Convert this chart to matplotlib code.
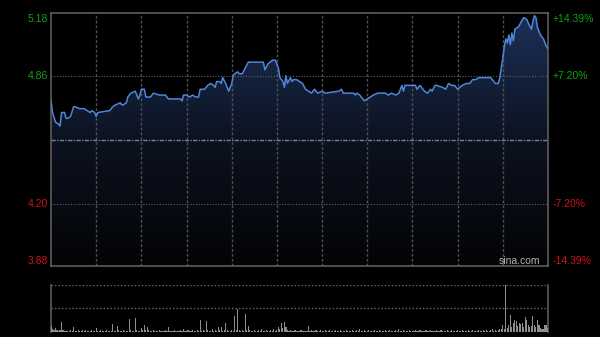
import numpy as np
import matplotlib
matplotlib.use('Agg')
import matplotlib.pyplot as plt
from matplotlib.colors import LinearSegmentedColormap

plt.rcParams['font.family'] = ['Liberation Sans', 'DejaVu Sans']

prev_close = 4.53
y_lo, y_hi = 3.878, 5.182
price_levels = [5.18, 4.86, 4.20, 3.88]
price_labels = ['5.18', '4.86', '4.20', '3.88']
pct_labels = ['+14.39%', '+7.20%', '-7.20%', '-14.39%']
up_color = '#12a012'
down_color = '#d01414'

# minute of the session (HK: 330 minutes) and last price
minutes = [0, 1, 3, 5, 6, 7, 9, 10, 11, 13, 15, 16, 19, 22, 24, 26, 27, 29, 30, 31,
           39, 41, 43, 46, 47, 48, 50, 51, 53, 56, 58, 59, 60, 62, 63, 66, 68, 72, 76, 78,
           86, 87, 88, 90, 92, 94, 96, 98, 99, 102, 104, 106, 108, 109, 110, 112, 113, 114, 116, 118,
           120, 121, 122, 124, 125, 127, 129, 131, 133, 139, 141, 142, 144, 147, 149, 151, 152, 154, 155, 156,
           157, 159, 160, 161, 163, 165, 167, 169, 171, 173, 175, 177, 180, 182, 191, 193, 194, 201, 202, 203,
           205, 207, 208, 210, 212, 214, 217, 222, 224, 226, 229, 231, 233, 234, 235, 238, 242, 243, 245, 248,
           250, 252, 253, 255, 256, 260, 262, 264, 266, 268, 270, 273, 276, 278, 280, 282, 284, 286, 288, 290,
           292, 293, 295, 297, 298, 299, 300, 301, 302, 303, 304, 305, 306, 307, 308, 310, 311, 313, 314, 316,
           317, 319, 320, 321, 322, 323, 325, 327, 329, 330]
prices = [4.73, 4.67, 4.62, 4.61, 4.60, 4.67, 4.67, 4.64, 4.64, 4.65, 4.70, 4.70, 4.69, 4.69, 4.68, 4.67, 4.68, 4.67, 4.65, 4.67,
          4.68, 4.70, 4.71, 4.72, 4.71, 4.71, 4.72, 4.75, 4.77, 4.78, 4.74, 4.76, 4.79, 4.79, 4.75, 4.75, 4.77, 4.76, 4.76, 4.74,
          4.74, 4.73, 4.76, 4.76, 4.75, 4.76, 4.75, 4.75, 4.79, 4.79, 4.81, 4.82, 4.81, 4.80, 4.83, 4.83, 4.82, 4.85, 4.82, 4.78,
          4.82, 4.86, 4.87, 4.88, 4.87, 4.87, 4.90, 4.93, 4.93, 4.93, 4.93, 4.89, 4.92, 4.94, 4.94, 4.90, 4.85, 4.83, 4.80, 4.86,
          4.82, 4.85, 4.83, 4.84, 4.84, 4.83, 4.82, 4.79, 4.78, 4.77, 4.79, 4.77, 4.78, 4.77, 4.78, 4.79, 4.77, 4.77, 4.76, 4.77,
          4.76, 4.74, 4.73, 4.74, 4.75, 4.76, 4.77, 4.77, 4.76, 4.77, 4.76, 4.77, 4.81, 4.78, 4.81, 4.81, 4.81, 4.79, 4.81, 4.78,
          4.77, 4.79, 4.78, 4.81, 4.81, 4.80, 4.79, 4.82, 4.81, 4.81, 4.79, 4.81, 4.82, 4.82, 4.84, 4.84, 4.85, 4.85, 4.85, 4.85,
          4.85, 4.84, 4.82, 4.82, 4.85, 4.90, 4.95, 5.01, 5.05, 5.03, 5.07, 5.02, 5.08, 5.04, 5.10, 5.11, 5.12, 5.15, 5.16, 5.15,
          5.13, 5.10, 5.14, 5.17, 5.16, 5.11, 5.07, 5.05, 5.01, 5.00]

# volume per minute (relative)
volume = [6, 3, 2, 4, 2, 1, 2, 10, 2, 1, 1, 1, 1, 2, 1, 5, 1, 1, 2, 1, 1, 2, 1, 2, 1, 1, 1, 2, 1, 1,
          4, 1, 1, 2, 1, 1, 1, 2, 1, 1, 1, 8, 1, 1, 6, 2, 1, 1, 2, 1, 1, 1, 13, 2, 1, 1, 14, 2, 1, 1,
          4, 2, 7, 2, 5, 2, 1, 1, 2, 1, 1, 1, 2, 1, 1, 1, 2, 1, 5, 1, 1, 1, 2, 1, 1, 1, 2, 1, 3, 1,
          1, 2, 1, 1, 2, 1, 1, 2, 1, 12, 1, 2, 1, 11, 2, 1, 1, 3, 1, 2, 1, 5, 2, 5, 1, 2, 9, 2, 1, 1,
          2, 1, 16, 2, 23, 2, 1, 2, 1, 18, 2, 6, 2, 1, 1, 2, 1, 1, 2, 1, 3, 1, 1, 2, 1, 1, 2, 1, 3, 1,
          2, 5, 3, 9, 4, 10, 5, 2, 1, 2, 1, 1, 2, 1, 1, 1, 2, 1, 1, 1, 1, 6, 1, 2, 1, 1, 2, 1, 1, 2,
          1, 1, 2, 1, 1, 2, 1, 1, 1, 2, 1, 1, 2, 1, 1, 1, 2, 1, 1, 1, 2, 1, 1, 2, 1, 3, 1, 1, 2, 1,
          1, 2, 1, 1, 1, 2, 1, 1, 2, 1, 1, 1, 2, 1, 1, 2, 1, 1, 1, 2, 1, 3, 1, 1, 2, 1, 1, 1, 2, 1,
          1, 1, 2, 1, 1, 2, 1, 1, 1, 2, 1, 1, 2, 1, 1, 1, 2, 1, 1, 2, 1, 1, 1, 2, 1, 1, 2, 1, 1, 1,
          2, 1, 1, 2, 1, 1, 1, 2, 1, 1, 2, 1, 1, 1, 2, 1, 1, 2, 1, 2, 1, 1, 2, 3, 1, 2, 1, 2, 3, 3,
          7, 3, 47, 4, 7, 17, 5, 9, 12, 11, 6, 9, 8, 9, 5, 15, 12, 7, 5, 6, 16, 7, 5, 12, 7, 4, 3, 3, 7, 7,
          4]

n_min = 330
frame = '#5c5c5c'

fig = plt.figure(figsize=(6, 3.37), dpi=100, facecolor='black')
ax = fig.add_axes([0.085, 0.2107, 0.8283, 0.7498], facecolor='black')
ax.set_xlim(0, n_min)
ax.set_ylim(y_lo, y_hi)

# gradient under the price line
grad = np.linspace(0, 1, 256).reshape(-1, 1)
cmap = LinearSegmentedColormap.from_list('fill', ['#030405', '#0c1220', '#1d3058'])
im = ax.imshow(grad, cmap=cmap, extent=[0, n_min, y_lo, y_hi], origin='lower',
               aspect='auto', zorder=1)
area = ax.fill_between(minutes, prices, y_lo, color='none', lw=0)
im.set_clip_path(area.get_paths()[0], transform=ax.transData)

for m in range(30, n_min, 30):
    ax.axvline(m, color='#505050', ls=(0, (2, 1.5)), lw=1.0, zorder=2)
for lv in [price_levels[1], price_levels[2]]:
    ax.axhline(lv, color='#5e5e5e', ls=(0, (1, 1.5)), lw=0.8, zorder=2)
ax.axhline(prev_close, color='#7a8292', ls=(0, (3, 1, 1, 1)), lw=1.0, zorder=3)

ax.plot(minutes, prices, color='#4f86d8', lw=1.1, zorder=4)

for s in ax.spines.values():
    s.set_color(frame)
    s.set_linewidth(1.2)
ax.set_xticks([])
ax.set_yticks([])

tr = ax.get_yaxis_transform()
vas = ['top', 'center', 'center', 'bottom']
for i, lv in enumerate(price_levels):
    c = up_color if lv > prev_close else down_color
    ax.text(-0.006, lv, price_labels[i], color=c, fontsize=7.5, ha='right', va=vas[i], transform=tr)
    ax.text(1.01, lv, pct_labels[i], color=c, fontsize=7.5, ha='left', va=vas[i], transform=tr)

ax.text(0.9, 0.02, 'sina.com', color='#b4b4b4', fontsize=7.5, ha='left', va='center',
        transform=ax.transAxes)

# volume panel
vax = fig.add_axes([0.085, 0.01484, 0.8283, 0.1395], facecolor='black')
vmax = max(volume)
vax.set_xlim(0, n_min)
vax.set_ylim(0, vmax)
vax.bar(range(len(volume)), volume, width=0.75, color='#8e8e8e', lw=0, zorder=3)
vax.axhline(vmax, color='#6a6a6a', ls=(0, (1, 1.5)), lw=1.0, zorder=2)
vax.axhline(vmax / 2, color='#6a6a6a', ls=(0, (1, 1.5)), lw=1.0, zorder=2)
vax.spines['top'].set_visible(False)
vax.spines['bottom'].set_visible(False)
for k in ['left', 'right']:
    vax.spines[k].set_color(frame)
    vax.spines[k].set_linewidth(1.2)
vax.set_xticks([])
vax.set_yticks([])

fig.savefig('out.png', dpi=100, facecolor='black')
